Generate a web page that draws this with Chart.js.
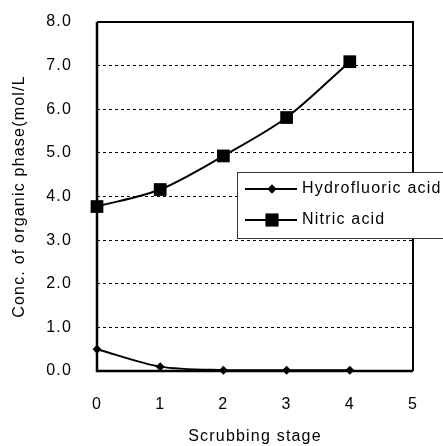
<!DOCTYPE html>
<html>
<head>
<meta charset="utf-8">
<script src="https://cdn.jsdelivr.net/npm/chart.js@4"></script>
<style>
  html, body { margin: 0; padding: 0; background: #fff; }
  canvas { display: block; }
</style>
</head>
<body>
<canvas id="chart" width="443" height="446"></canvas>
<script>
const stages = [0, 1, 2, 3, 4];
const hydrofluoric = [0.5, 0.1, 0.02, 0.02, 0.02];
const nitric = [3.77, 4.16, 4.93, 5.81, 7.09];
const seriesNames = ['Hydrofluoric acid', 'Nitric acid'];
const yTicks = [0, 1, 2, 3, 4, 5, 6, 7, 8];

const FONT = '"Liberation Sans", Arial, sans-serif';
Chart.defaults.font.family = FONT;
Chart.defaults.font.size = 16;
Chart.defaults.color = '#000';

// black box around the plot, thicker on left/bottom
const frame = {
  id: 'frame',
  beforeDraw(chart) {
    chart.ctx.letterSpacing = '1.2px';
  },
  afterDatasetsDraw(chart) {
    const { ctx, chartArea: a } = chart;
    ctx.save();
    ctx.strokeStyle = '#000';
    ctx.lineWidth = 2;
    ctx.beginPath();
    ctx.moveTo(a.left, a.top);
    ctx.lineTo(a.right, a.top);
    ctx.lineTo(a.right, a.bottom);
    ctx.stroke();
    ctx.lineWidth = 2.5;
    ctx.beginPath();
    ctx.moveTo(a.left, a.top);
    ctx.lineTo(a.left, a.bottom);
    ctx.lineTo(a.right, a.bottom);
    ctx.stroke();
    ctx.restore();
  }
};

// legend box sitting over the plot, running off the right edge
const boxLegend = {
  id: 'boxLegend',
  afterDraw(chart) {
    const ctx = chart.ctx;
    ctx.save();
    ctx.fillStyle = '#fff';
    ctx.fillRect(237, 172, 220, 66);
    ctx.strokeStyle = '#333';
    ctx.lineWidth = 1;
    ctx.strokeRect(237.5, 172.5, 220, 66);
    const rows = [189, 220];
    chart.data.datasets.forEach((ds, i) => {
      const y = rows[i];
      ctx.strokeStyle = '#000';
      ctx.lineWidth = 2;
      ctx.beginPath();
      ctx.moveTo(245, y);
      ctx.lineTo(297, y);
      ctx.stroke();
      ctx.fillStyle = '#000';
      Chart.helpers.drawPoint(ctx, { pointStyle: ds.pointStyle, radius: ds.pointRadius, borderWidth: 0 }, 272, y);
      ctx.fill();
      ctx.font = '16px ' + FONT;
      ctx.textBaseline = 'middle';
      ctx.textAlign = 'left';
      ctx.fillText(ds.label, 302, y);
    });
    ctx.restore();
  }
};

new Chart(document.getElementById('chart'), {
  type: 'line',
  data: {
    datasets: [
      {
        label: seriesNames[0],
        data: stages.map((s, i) => ({ x: s, y: hydrofluoric[i] })),
        borderColor: '#000',
        backgroundColor: '#000',
        borderWidth: 2,
        pointStyle: 'rectRot',
        pointRadius: 4.5,
        pointBorderWidth: 0,
        tension: 0.3
      },
      {
        label: seriesNames[1],
        data: stages.map((s, i) => ({ x: s, y: nitric[i] })),
        borderColor: '#000',
        backgroundColor: '#000',
        borderWidth: 2,
        pointStyle: 'rect',
        pointRadius: 9,
        pointBorderWidth: 0,
        tension: 0.3
      }
    ]
  },
  options: {
    responsive: false,
    animation: false,
    clip: false,
    layout: { padding: { top: 22, right: 30, left: 0, bottom: 0 } },
    plugins: { legend: { display: false }, tooltip: { enabled: false } },
    scales: {
      x: {
        type: 'linear',
        min: 0,
        max: 5,
        afterFit: s => { s.height = 75; s.paddingLeft = 0; s.paddingRight = 0; },
        ticks: { stepSize: 1, padding: 24, color: '#000', font: { size: 16 } },
        grid: { display: false, drawTicks: false },
        border: { display: false },
        title: {
          display: true,
          text: 'Scrubbing stage',
          color: '#000',
          font: { size: 16 },
          padding: { top: 0, bottom: 0 }
        }
      },
      y: {
        min: 0,
        max: 8,
        afterFit: s => { s.width = 97; s.paddingTop = 0; s.paddingBottom = 0; },
        afterBuildTicks: s => { s.ticks = yTicks.map(v => ({ value: v })); },
        ticks: {
          padding: 25,
          color: '#000',
          font: { size: 16 },
          callback: v => Number(v).toFixed(1)
        },
        grid: {
          drawTicks: false,
          color: c => (c.tick.value === 0 || c.tick.value === 8) ? 'rgba(0,0,0,0)' : '#000',
          lineWidth: 1
        },
        border: { display: false, dash: [3, 3] },
        title: {
          display: true,
          text: 'Conc. of organic phase(mol/L',
          color: '#000',
          font: { size: 16 },
          padding: { top: 10, bottom: 0 }
        }
      }
    }
  },
  plugins: [frame, boxLegend]
});
</script>
</body>
</html>
